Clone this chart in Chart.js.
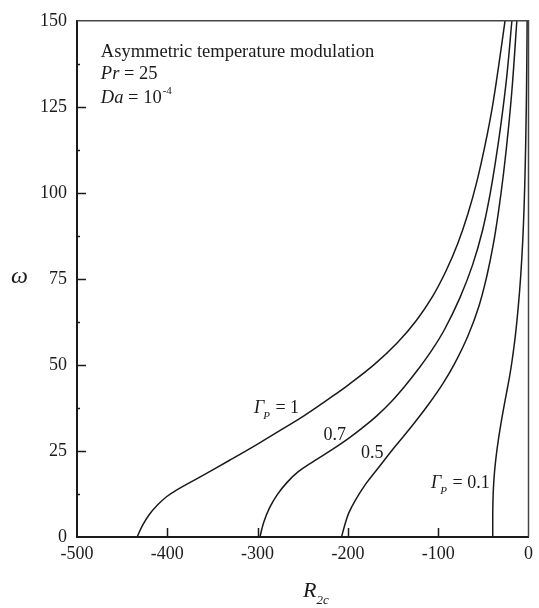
<!DOCTYPE html>
<html>
<head>
<meta charset="utf-8">
<script src="https://cdn.jsdelivr.net/npm/chart.js@4.4.1/dist/chart.umd.min.js"></script>
<style>
  html, body { margin: 0; padding: 0; background: #fff; }
  #wrap { width: 539px; height: 608px; }
</style>
</head>
<body>
<div id="wrap"><canvas id="chart" width="539" height="608"></canvas></div>
<script>
// curves: R2c (x) against omega (y)
const gamma1R  = [-433.4, -427.6, -420.3, -411.2, -400.9, -389.4, -364.5, -331, -300, -275, -250, -222, -199, -170, -145, -124, -106, -91, -78, -67, -57, -48, -40, -33, -26];
const gamma1W  = [0, 3.3, 6.4, 9.2, 11.7, 13.7, 17.35, 22.3, 27, 31, 35, 40, 44.3, 50.3, 56.5, 63, 70, 77.5, 85.5, 94, 103.5, 114, 125, 137, 150];
const gamma07R = [-297.4, -293.2, -286.8, -278.2, -267.6, -255.3, -238, -218, -200, -184, -168, -152, -137, -122, -107, -93, -76, -62, -51, -43, -36, -30, -24, -18.4];
const gamma07W = [0, 4.3, 8.45, 12.3, 15.8, 18.9, 22, 25.3, 28.5, 31.7, 35.2, 39.3, 43.8, 48.8, 54.3, 60.3, 69.5, 79, 89, 99, 110, 121, 134, 150];
const gamma05R = [-207, -204, -199, -191, -180, -166, -148, -128, -110, -95, -82, -67, -55, -46, -39, -33, -27.5, -22.5, -18, -12.9];
const gamma05W = [0, 3, 7, 11, 15.5, 20.2, 26.2, 32.6, 38.8, 44.5, 50.3, 58.5, 67, 76, 85, 95, 106, 118, 131, 150];
const gamma01R = [-39.6, -39.6, -39.4, -38.8, -37.6, -35.8, -33.5, -30.8, -27.8, -24.6, -21.4, -18.3, -14.55, -11.3, -8.6, -6.4, -4.75, -3.45, -2.5, -1.9, -1.5];
const gamma01W = [0, 5, 10, 14.5, 19, 23.5, 28, 32.5, 37, 41.5, 46, 51, 58.5, 67, 76, 86, 97, 110, 124, 137, 150];

const xTickValues = [-500, -400, -300, -200, -100, 0];
const yTickValues = [0, 25, 50, 75, 100, 125, 150];
const xInnerTicks = [-400, -300, -200, -100];
const yInnerTicks = [25, 50, 75, 100, 125];
const yMinorTicks = [12.5, 37.5, 62.5, 87.5, 112.5, 137.5];

// curve labels, anchored in data units (left edge, baseline)
const curveLabels = [
  { greek: true, value: '1',   r: -304,   w: 35.9 },
  { greek: false, value: '0.7', r: -226.9, w: 28.1 },
  { greek: false, value: '0.5', r: -185.4, w: 22.9 },
  { greek: true, value: '0.1', r: -107.9, w: 14.3 }
];

const SERIF = '"Liberation Serif", "DejaVu Serif", "Times New Roman", serif';
const INK = '#1a1a1a';

function toPoints(xs, ys) {
  return xs.map((x, i) => ({ x: x, y: ys[i] }));
}

function curve(xs, ys) {
  return {
    data: toPoints(xs, ys),
    showLine: true,
    borderColor: INK,
    borderWidth: 1.5,
    pointRadius: 0,
    tension: 0.4,
    fill: false
  };
}

const decorations = {
  id: 'decorations',
  afterDraw(chart) {
    const ctx = chart.ctx;
    const a = chart.chartArea;
    const xs = chart.scales.x;
    const ys = chart.scales.y;
    ctx.save();

    // top and right frame
    ctx.strokeStyle = '#444';
    ctx.lineWidth = 1.5;
    ctx.beginPath();
    ctx.moveTo(a.left, a.top);
    ctx.lineTo(a.right, a.top);
    ctx.lineTo(a.right, a.bottom);
    ctx.stroke();

    // inward ticks
    ctx.strokeStyle = INK;
    ctx.lineWidth = 1.5;
    ctx.beginPath();
    yInnerTicks.forEach(v => {
      const py = Math.round(ys.getPixelForValue(v)) + 0.5;
      ctx.moveTo(a.left, py);
      ctx.lineTo(a.left + 9, py);
    });
    yMinorTicks.forEach(v => {
      const py = Math.round(ys.getPixelForValue(v)) + 0.5;
      ctx.moveTo(a.left, py);
      ctx.lineTo(a.left + 3, py);
    });
    xInnerTicks.forEach(v => {
      const px = Math.round(xs.getPixelForValue(v)) + 0.5;
      ctx.moveTo(px, a.bottom);
      ctx.lineTo(px, a.bottom - 9);
    });
    ctx.stroke();

    ctx.fillStyle = INK;
    ctx.textBaseline = 'alphabetic';
    ctx.textAlign = 'left';

    // parameter block
    const bx = xs.getPixelForValue(-473.6);
    ctx.font = '18.5px ' + SERIF;
    ctx.fillText('Asymmetric temperature modulation', bx, ys.getPixelForValue(139.4));
    let y2 = ys.getPixelForValue(133.1);
    ctx.font = 'italic 18.5px ' + SERIF;
    ctx.fillText('Pr', bx, y2);
    let w = ctx.measureText('Pr').width;
    ctx.font = '18.5px ' + SERIF;
    ctx.fillText(' = 25', bx + w, y2);
    let y3 = ys.getPixelForValue(126);
    ctx.font = 'italic 18.5px ' + SERIF;
    ctx.fillText('Da', bx, y3);
    w = ctx.measureText('Da').width;
    ctx.font = '18.5px ' + SERIF;
    ctx.fillText(' = 10', bx + w, y3);
    w += ctx.measureText(' = 10').width;
    ctx.font = '11px ' + SERIF;
    ctx.fillText('-4', bx + w + 1, y3 - 9);

    // curve labels
    curveLabels.forEach(l => {
      let px = xs.getPixelForValue(l.r);
      const py = ys.getPixelForValue(l.w);
      if (l.greek) {
        ctx.font = 'italic 18px ' + SERIF;
        ctx.fillText('\u0393', px, py);
        px += ctx.measureText('\u0393').width;
        ctx.font = 'italic 11px ' + SERIF;
        ctx.fillText('P', px - 1, py + 6);
        px += ctx.measureText('P').width;
        ctx.font = '18px ' + SERIF;
        ctx.fillText(' = ' + l.value, px, py);
      } else {
        ctx.font = '18px ' + SERIF;
        ctx.fillText(l.value, px, py);
      }
    });

    // axis titles
    ctx.font = 'italic 22px ' + SERIF;
    ctx.fillText('R', 303, 597);
    const rw = ctx.measureText('R').width;
    ctx.font = 'italic 13px ' + SERIF;
    ctx.fillText('2c', 303 + rw, 604);

    ctx.font = 'italic 24px ' + SERIF;
    ctx.fillText('\u03C9', 11, 283);

    ctx.restore();
  }
};

new Chart(document.getElementById('chart'), {
  type: 'scatter',
  data: {
    datasets: [
      curve(gamma1R, gamma1W),
      curve(gamma07R, gamma07W),
      curve(gamma05R, gamma05W),
      curve(gamma01R, gamma01W)
    ]
  },
  options: {
    responsive: false,
    animation: false,
    layout: { padding: { top: 14, right: 7, left: 0, bottom: 0 } },
    plugins: {
      legend: { display: false },
      tooltip: { enabled: false }
    },
    scales: {
      x: {
        type: 'linear',
        min: -500,
        max: 0,
        afterBuildTicks: axis => { axis.ticks = xTickValues.map(v => ({ value: v })); },
        afterFit: axis => { axis.height = 71; },
        grid: { display: true, drawOnChartArea: false, drawTicks: false },
        border: { display: true, color: INK, width: 2 },
        ticks: {
          autoSkip: false,
          maxRotation: 0,
          padding: 6,
          color: INK,
          font: { family: SERIF, size: 18 },
          callback: v => String(v)
        }
      },
      y: {
        type: 'linear',
        min: 0,
        max: 150,
        afterBuildTicks: axis => { axis.ticks = yTickValues.map(v => ({ value: v })); },
        afterFit: axis => { axis.width = 77; },
        grid: { display: true, drawOnChartArea: false, drawTicks: false },
        border: { display: true, color: INK, width: 2 },
        ticks: {
          autoSkip: false,
          padding: 10,
          color: INK,
          font: { family: SERIF, size: 18 },
          callback: v => String(v)
        }
      }
    }
  },
  plugins: [decorations]
});
</script>
</body>
</html>
